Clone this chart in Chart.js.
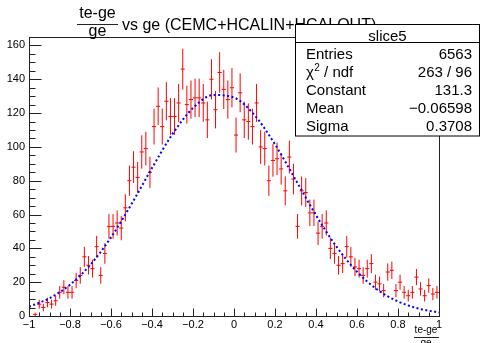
<!DOCTYPE html>
<html>
<head>
<meta charset="utf-8">
<script src="https://cdn.jsdelivr.net/npm/chart.js@4.4.0/dist/chart.umd.min.js"></script>
<style>
html, body { margin: 0; padding: 0; background: #fff; }
#wrap { width: 482px; height: 343px; }
</style>
</head>
<body>
<div id="wrap"><canvas id="chart" width="482" height="343"></canvas></div>
<script>
// histogram: 100 bins from -1 to 1
const binLow = -1;
const binWidth = 0.02;
const counts = [
    0, 1, 7, 5, 8, 7, 9, 14, 17, 14,
    14, 21, 24, 35, 30, 28, 41, 24, 37, 53,
    53, 55, 52, 64, 80, 88, 82, 97, 99, 85,
    112, 124, 112, 127, 118, 118, 126, 146, 125, 128,
    129, 129, 126, 116, 140, 122, 144, 134, 128, 135,
    107, 132, 116, 115, 112, 126, 100, 99, 80, 92,
    93, 87, 74, 94, 81, 53, 74, 73, 61, 61,
    49, 53, 55, 40, 37, 30, 31, 41, 35, 29,
    28, 24, 28, 31, 20, 19, 15, 26, 27, 15,
    20, 14, 12, 14, 23, 16, 12, 18, 13, 14
];

// gaus fit curve
const fitX = [-1, -0.9, -0.8, -0.7, -0.6, -0.5, -0.4, -0.3, -0.2, -0.1, 0, 0.1, 0.2, 0.3, 0.4, 0.5, 0.6, 0.7, 0.8, 0.9, 1];
const fitY = [5.5, 10.5, 18.5, 30.4, 46.5, 66.2, 87.5, 107.6, 123.0, 130.7, 129.2, 118.8, 101.5, 80.7, 59.6, 41.0, 26.2, 15.5, 8.6, 4.4, 2.1];

// axes
const xTicks = [-1, -0.8, -0.6, -0.4, -0.2, 0, 0.2, 0.4, 0.6, 0.8, 1];
const xTickLabels = ['\u22121', '\u22120.8', '\u22120.6', '\u22120.4', '\u22120.2', '0', '0.2', '0.4', '0.6', '0.8', '1'];
const yTicks = [0, 20, 40, 60, 80, 100, 120, 140, 160];
const yTickLabels = ['0', '20', '40', '60', '80', '100', '120', '140', '160'];

// stats box
const statsName = 'slice5';
const statsLabels = ['Entries', 'chi2', 'Constant', 'Mean', 'Sigma'];
const statsValues = ['6563', '263 / 96', '131.3', '\u22120.06598', '0.3708'];

const FONT = '"Liberation Sans", Arial, Helvetica, sans-serif';

const histPoints = counts.map((c, i) => ({ x: binLow + binWidth * (i + 0.5), y: c }));
const fitPoints = fitX.map((x, i) => ({ x: x, y: fitY[i] }));

// red error crosses (sqrt(N)), drawn under the fit line
const errorBarsPlugin = {
    id: 'errorBars',
    beforeDatasetsDraw(chart) {
        const ctx = chart.ctx;
        const xs = chart.scales.x;
        const ys = chart.scales.y;
        ctx.save();
        ctx.strokeStyle = '#ff0000';
        ctx.lineWidth = 1;
        chart.data.datasets[0].data.forEach(p => {
            if (p.y <= 0) return;
            const err = Math.sqrt(p.y);
            const px = xs.getPixelForValue(p.x);
            const py = ys.getPixelForValue(p.y);
            ctx.beginPath();
            ctx.moveTo(px, ys.getPixelForValue(p.y - err));
            ctx.lineTo(px, ys.getPixelForValue(p.y + err));
            ctx.moveTo(xs.getPixelForValue(p.x - binWidth / 2), py);
            ctx.lineTo(xs.getPixelForValue(p.x + binWidth / 2), py);
            ctx.stroke();
        });
        ctx.restore();
    }
};

// ROOT style frame, inward ticks, labels, title and stats box
const rootFramePlugin = {
    id: 'rootFrame',
    afterDraw(chart) {
        const ctx = chart.ctx;
        const xs = chart.scales.x;
        const ys = chart.scales.y;
        const a = chart.chartArea;
        const L = Math.round(a.left) + 0.5, R = Math.round(a.right) + 0.5;
        const T = Math.round(a.top) + 0.5, B = Math.round(a.bottom) + 0.5;

        ctx.save();
        ctx.strokeStyle = '#222';
        ctx.lineWidth = 1;
        ctx.strokeRect(L, T, R - L, B - T);

        // x ticks
        ctx.beginPath();
        for (let i = 0; i < xTicks.length; i++) {
            const px = Math.round(xs.getPixelForValue(xTicks[i])) + 0.5;
            ctx.moveTo(px, B);
            ctx.lineTo(px, B - 8);
            if (i < xTicks.length - 1) {
                const step = (xTicks[i + 1] - xTicks[i]) / 4;
                for (let k = 1; k < 4; k++) {
                    const mx = Math.round(xs.getPixelForValue(xTicks[i] + step * k)) + 0.5;
                    ctx.moveTo(mx, B);
                    ctx.lineTo(mx, B - 4);
                }
            }
        }
        // y ticks
        for (let i = 0; i < yTicks.length; i++) {
            const py = Math.round(ys.getPixelForValue(yTicks[i])) + 0.5;
            ctx.moveTo(L, py);
            ctx.lineTo(L + 12, py);
            for (let k = 1; k < 4; k++) {
                const v = yTicks[i] + 5 * k;
                if (v > ys.max) break;
                const my = Math.round(ys.getPixelForValue(v)) + 0.5;
                ctx.moveTo(L, my);
                ctx.lineTo(L + 6, my);
            }
        }
        ctx.stroke();

        // tick labels
        ctx.fillStyle = '#000';
        ctx.font = '11px ' + FONT;
        ctx.textAlign = 'right';
        ctx.textBaseline = 'middle';
        yTicks.forEach((v, i) => ctx.fillText(yTickLabels[i], 25, ys.getPixelForValue(v)));
        ctx.textAlign = 'center';
        ctx.textBaseline = 'alphabetic';
        xTicks.forEach((v, i) => ctx.fillText(xTickLabels[i], xs.getPixelForValue(v), 328));

        // x axis title: (te-ge)/ge
        ctx.font = '10px ' + FONT;
        ctx.fillText('te-ge', 426, 333);
        ctx.beginPath();
        ctx.moveTo(414, 337.5);
        ctx.lineTo(439, 337.5);
        ctx.stroke();
        ctx.fillText('ge', 426, 346);

        // title
        ctx.font = '16px ' + FONT;
        ctx.fillText('te-ge', 97.5, 18);
        ctx.beginPath();
        ctx.moveTo(77, 24.5);
        ctx.lineTo(118, 24.5);
        ctx.stroke();
        ctx.fillText('ge', 97.5, 36);
        ctx.textAlign = 'left';
        ctx.fillText('vs ge (CEMC+HCALIN+HCALOUT)', 122, 30);

        // stats box
        const bx = 295.5, by = 24.5, bw = 184, bh = 111.5;
        ctx.fillStyle = '#fff';
        ctx.fillRect(bx, by, bw, bh);
        ctx.strokeStyle = '#000';
        ctx.strokeRect(bx, by, bw, bh);
        ctx.beginPath();
        ctx.moveTo(bx, 42.5);
        ctx.lineTo(bx + bw, 42.5);
        ctx.stroke();
        ctx.fillStyle = '#000';
        ctx.font = '15px ' + FONT;
        ctx.textAlign = 'center';
        ctx.fillText(statsName, bx + bw / 2, 41);
        statsLabels.forEach((lbl, i) => {
            const yb = 58.5 + 18.15 * i;
            ctx.textAlign = 'left';
            if (lbl === 'chi2') {
                ctx.font = '15px ' + FONT;
                ctx.fillText('\u03c7', 306, yb);
                const w = ctx.measureText('\u03c7').width;
                ctx.font = '10px ' + FONT;
                ctx.fillText('2', 306 + w + 0.5, yb - 6);
                ctx.font = '15px ' + FONT;
                ctx.fillText(' / ndf', 306 + w + 6, yb);
            } else {
                ctx.fillText(lbl, 306, yb);
            }
            ctx.textAlign = 'right';
            ctx.fillText(statsValues[i], 472, yb);
        });
        ctx.restore();
    }
};

const bgPlugin = {
    id: 'bg',
    beforeDraw(chart) {
        const ctx = chart.ctx;
        ctx.save();
        ctx.fillStyle = '#fff';
        ctx.fillRect(0, 0, chart.width, chart.height);
        ctx.restore();
    }
};

new Chart(document.getElementById('chart').getContext('2d'), {
    type: 'scatter',
    data: {
        datasets: [
            {
                label: 'slice5',
                data: histPoints,
                pointRadius: 0,
                showLine: false
            },
            {
                label: 'gaus',
                type: 'line',
                data: fitPoints,
                borderColor: '#0000ff',
                borderWidth: 2,
                borderDash: [2, 2.5],
                borderCapStyle: 'butt',
                cubicInterpolationMode: 'monotone',
                pointRadius: 0,
                fill: false
            }
        ]
    },
    options: {
        responsive: false,
        animation: false,
        devicePixelRatio: 1,
        layout: { padding: { left: 29, right: 43, top: 37, bottom: 27 } },
        plugins: {
            legend: { display: false },
            tooltip: { enabled: false },
            title: { display: false }
        },
        scales: {
            x: { type: 'linear', min: -1, max: 1, display: false },
            y: { type: 'linear', min: 0, max: 165, display: false }
        }
    },
    plugins: [bgPlugin, errorBarsPlugin, rootFramePlugin]
});
</script>
</body>
</html>
